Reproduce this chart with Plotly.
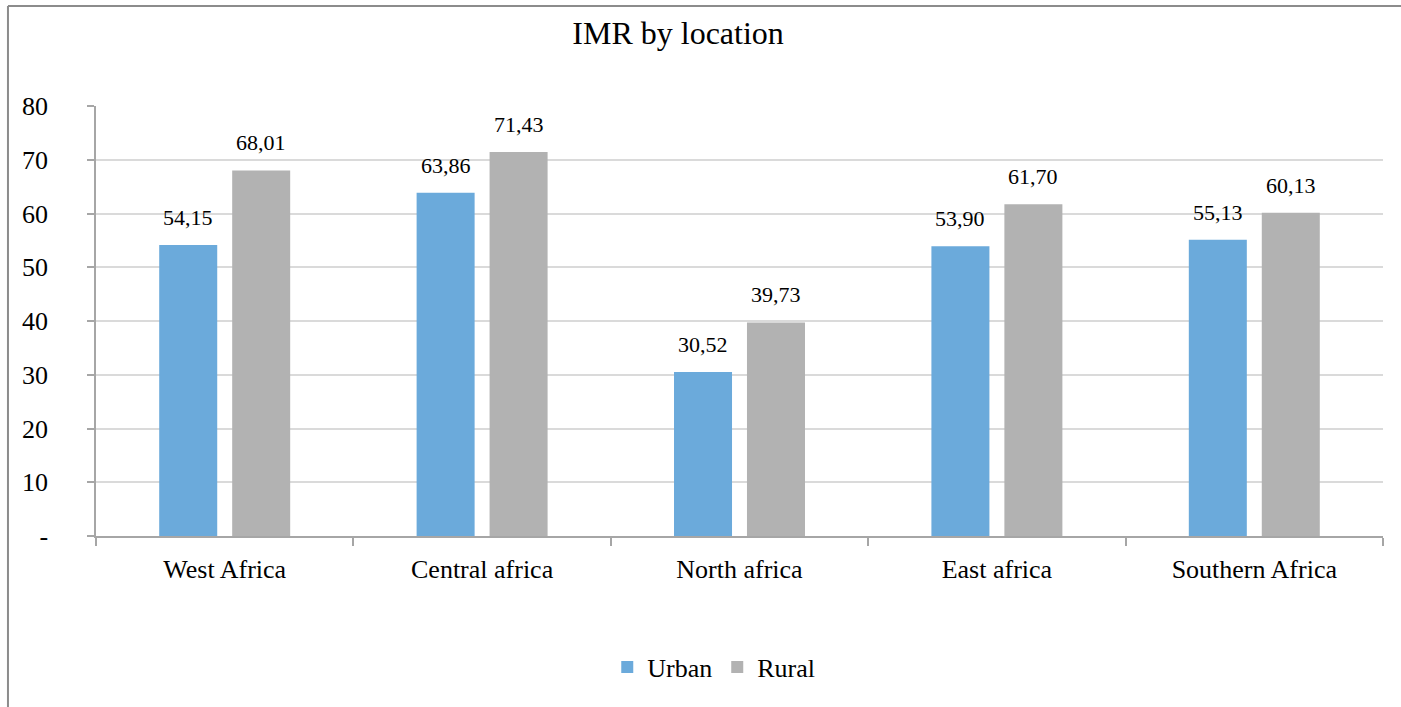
import plotly.graph_objects as go

regions = ["West Africa", "Central africa", "North africa", "East africa", "Southern Africa"]
urban = [54.15, 63.86, 30.52, 53.90, 55.13]
rural = [68.01, 71.43, 39.73, 61.70, 60.13]
y_ticks = [0, 10, 20, 30, 40, 50, 60, 70, 80]
y_tick_text = ["-", "10", "20", "30", "40", "50", "60", "70", "80"]

FONT = "Liberation Serif"
URBAN_COLOR = "#6BAADB"
RURAL_COLOR = "#B2B2B2"
FRAME_COLOR = "#8C8C8C"


def fmt(v):
    return f"{v:.2f}".replace(".", ",")


fig = go.Figure()
fig.add_trace(go.Bar(name="Urban", x=regions, y=urban, marker_color=URBAN_COLOR,
                     marker_line_width=0))
fig.add_trace(go.Bar(name="Rural", x=regions, y=rural, marker_color=RURAL_COLOR,
                     marker_line_width=0))

# value labels above each bar
annotations = []
for series, shift in ((urban, -36.5), (rural, 36.5)):
    for cat, v in zip(regions, series):
        annotations.append(dict(
            x=cat, y=v, xref="x", yref="y", text=fmt(v), showarrow=False,
            xshift=shift, yshift=13, yanchor="bottom",
            font=dict(family=FONT, size=22, color="#000000"),
        ))

fig.update_layout(
    width=1401, height=707,
    margin=dict(l=96, r=18, t=106, b=171),
    paper_bgcolor="white", plot_bgcolor="white",
    font=dict(family=FONT, color="#000000"),
    title=dict(text="IMR by location", xref="container", yref="container",
               x=0.484, xanchor="center", y=1 - 33 / 707, yanchor="middle",
               font=dict(family=FONT, size=32, color="#000000")),
    barmode="group", bargap=0.433, bargroupgap=0.205,
    showlegend=True,
    legend=dict(orientation="h", x=0.48, xanchor="center", y=-0.305,
                yanchor="middle", font=dict(family=FONT, size=26, color="#000000"),
                itemwidth=30, traceorder="normal"),
    annotations=annotations,
    # chart frame: top and left edges
    shapes=[
        dict(type="line", xref="paper", yref="paper", x0=-0.0684, x1=1.2,
             y0=1.2326, y1=1.2326, line=dict(color=FRAME_COLOR, width=2), layer="below"),
        dict(type="line", xref="paper", yref="paper", x0=-0.0684, x1=-0.0684,
             y0=-0.6, y1=1.2326, line=dict(color=FRAME_COLOR, width=2), layer="below"),
    ],
)

fig.update_xaxes(
    type="category", showgrid=False, showline=True, linecolor="#A6A6A6",
    linewidth=1.5, ticks="outside", tickson="boundaries", ticklen=8,
    tickcolor="#A6A6A6", tickwidth=1.5, ticklabelstandoff=9,
    tickfont=dict(family=FONT, size=26, color="#000000"),
)
fig.update_yaxes(
    range=[0, 80], tickvals=y_ticks, ticktext=y_tick_text,
    showgrid=True, gridcolor="#DADADA", gridwidth=1.5,
    showline=True, linecolor="#A6A6A6", linewidth=1.5,
    ticks="outside", ticklen=7, tickcolor="#A6A6A6", tickwidth=1.5,
    ticklabelstandoff=34, zeroline=False,
    tickfont=dict(family=FONT, size=26, color="#000000"),
)

fig.write_html("out.html")
